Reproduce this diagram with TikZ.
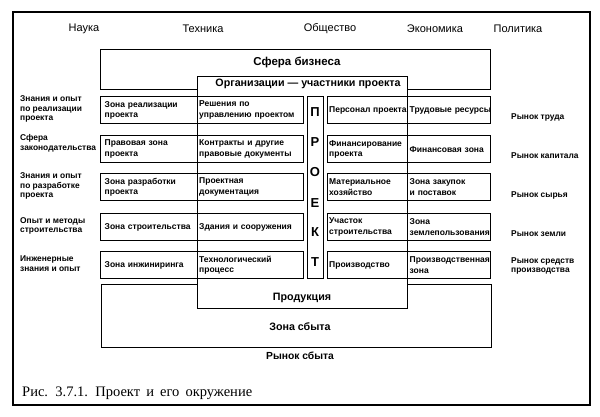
\documentclass[tikz,border=0pt]{standalone}
\usepackage{fontspec}
\setmainfont{Liberation Serif}
\newfontfamily\sansf{Liberation Sans}
\newcommand\cellf{\sansf\bfseries\fontsize{8.5}{10.5}\selectfont}
\newcommand\sidef{\sansf\bfseries\fontsize{8.4}{9.8}\selectfont}
\newcommand\topf{\sansf\fontsize{11}{13}\selectfont}
\newcommand\headf{\sansf\bfseries\fontsize{10.7}{13}\selectfont}
\begin{document}
\begin{tikzpicture}[x=1pt,y=-1pt,
  every node/.style={inner sep=0pt},
  frame/.style={draw, line width=1.4pt},
  cell/.style={draw, line width=1.4pt, anchor=north west, minimum height=27pt,
    align=left, font=\cellf, inner ysep=0pt},
  cola/.style={cell, inner xsep=4pt, text width=89pt},
  colb/.style={cell, inner xsep=1.5pt, text width=103pt},
  colc/.style={cell, inner xsep=1.5pt, text width=77pt},
  cold/.style={cell, inner xsep=2pt, text width=79pt},
  side/.style={anchor=west, align=left, font=\sidef},
  toplabel/.style={font=\topf},
  letter/.style={font=\sansf\bfseries\fontsize{13}{15}\selectfont}]
\useasboundingbox (0,0) rectangle (600,416);
% outer frame
\draw[frame] (13,12) rectangle (590,405);
% top labels
\node[toplabel] (nauka) at (84,29) {Наука};
\node[toplabel] (tekh) at (203,29) {Техника};
\node[toplabel] (obsh) at (330,29) {Общество};
\node[toplabel] (ekon) at (435,29) {Экономика};
\node[toplabel] (polit) at (518,29) {Политика};
% sphere of business
\node[frame, anchor=north west, minimum width=390pt, minimum height=40pt] (biz) at (100,49) {};
\node[font=\sansf\bfseries\fontsize{11.5}{13}\selectfont] (biztxt) at (297,62) {Сфера бизнеса};
% sales zone
\node[frame, anchor=north west, minimum width=390pt, minimum height=63pt] (sbyt) at (101,284) {};
\node[font=\headf] (sbyttxt) at (300,327) {Зона сбыта};
\node[font=\sansf\bfseries\fontsize{10.3}{12}\selectfont] (rynsbyt) at (300,356) {Рынок сбыта};
% organisations box
\node[frame, fill=white, anchor=north west, minimum width=210pt, minimum height=232pt] (org) at (197,76) {};
\node[font=\headf] (orgtxt) at (308,84) {Организации — участники проекта};
\node[font=\headf] (prod) at (302,298) {Продукция};
% row 1
\node[cola] (a1) at (100,96) {Зона реализации\\проекта};
\node[colb] (b1) at (197,96) {Решения по\\управлению проектом};
\node[colc] (c1) at (327,96) {\raisebox{-4pt}{Персонал проекта}};
\node[cold] (d1) at (407,96) {\raisebox{-4pt}{Трудовые ресурсы}};
% row 2
\node[cola] (a2) at (100,135) {Правовая зона\\проекта};
\node[colb] (b2) at (197,135) {Контракты и другие\\правовые документы};
\node[colc] (c2) at (327,135) {Финансирование\\проекта};
\node[cold] (d2) at (407,135) {Финансовая зона};
% row 3
\node[cola] (a3) at (100,173) {Зона разработки\\проекта};
\node[colb] (b3) at (197,173) {Проектная\\документация};
\node[colc] (c3) at (327,173) {Материальное\\хозяйство};
\node[cold] (d3) at (407,173) {Зона закупок\\и поставок};
% row 4
\node[cola] (a4) at (100,213) {Зона строительства};
\node[colb] (b4) at (197,213) {Здания и сооружения};
\node[colc] (c4) at (327,213) {Участок\\строительства};
\node[cold] (d4) at (407,213) {Зона\\землепользования};
% row 5
\node[cola] (a5) at (100,251) {Зона инжиниринга};
\node[colb] (b5) at (197,251) {Технологический\\процесс};
\node[colc] (c5) at (327,251) {Производство};
\node[cold] (d5) at (407,251) {Производственная\\зона};
% project column
\node[frame, anchor=north west, minimum width=16pt, minimum height=182pt] (proj) at (307,96) {};
\node[letter] (p1) at (315,112) {П};
\node[letter] (p2) at (315,142) {Р};
\node[letter] (p3) at (315,172) {О};
\node[letter] (p4) at (315,203) {Е};
\node[letter] (p5) at (315,232) {К};
\node[letter] (p6) at (315,262) {Т};
% left labels
\node[side] (l1) at (20,109) {Знания и опыт\\по реализации\\проекта};
\node[side] (l2) at (20,143) {Сфера\\законодательства};
\node[side] (l3) at (20,186) {Знания и опыт\\по разработке\\проекта};
\node[side] (l4) at (20,226) {Опыт и методы\\строительства};
\node[side] (l5) at (20,264) {Инженерные\\знания и опыт};
% right labels
\node[side] (r1) at (511,117) {Рынок труда};
\node[side] (r2) at (511,156) {Рынок капитала};
\node[side] (r3) at (511,195) {Рынок сырья};
\node[side] (r4) at (511,234) {Рынок земли};
\node[side] (r5) at (511,266) {Рынок средств\\производства};
% caption
\node[anchor=west, font=\fontsize{14.5}{16}\selectfont] (cap) at (22,393)
  {Рис.\hspace{2.5pt} 3.7.1.\hspace{2.5pt} Проект\hspace{2.5pt} и\hspace{2.5pt} его\hspace{2.5pt} окружение};
\end{tikzpicture}
\end{document}
